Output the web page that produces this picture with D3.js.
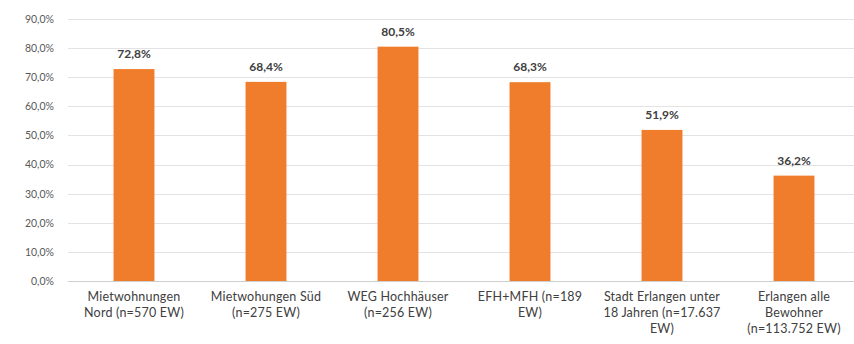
<!DOCTYPE html>
<html>
<head>
<meta charset="utf-8">
<script src="https://cdn.jsdelivr.net/npm/d3@7/dist/d3.min.js"></script>
<style>
  html, body { margin: 0; padding: 0; background: #fff; }
  svg { display: block; font-family: Lato, "Open Sans", sans-serif; }
</style>
</head>
<body>
<svg id="chart" width="854" height="344"></svg>
<script>
// Category labels (line breaks as shown under each bar)
const categories = [
  ["Mietwohnungen", "Nord (n=570 EW)"],
  ["Mietwohungen Süd", "(n=275 EW)"],
  ["WEG Hochhäuser", "(n=256 EW)"],
  ["EFH+MFH (n=189", "EW)"],
  ["Stadt Erlangen unter", "18 Jahren (n=17.637", "EW)"],
  ["Erlangen alle", "Bewohner", "(n=113.752 EW)"]
];
// Share in percent
const values = [72.8, 68.4, 80.5, 68.3, 51.9, 36.2];
const yTicks = [0, 10, 20, 30, 40, 50, 60, 70, 80, 90];

const svg = d3.select("#chart");
const fmt = v => v.toFixed(1).replace(".", ",") + "%";

const x = d3.scaleBand()
  .domain(d3.range(values.length))
  .range([68, 860])
  .paddingInner(0.69)
  .paddingOuter(0.345);

const y = d3.scaleLinear().domain([0, 90]).range([281, 19]);

// Horizontal gridlines
svg.append("g")
  .selectAll("line")
  .data(yTicks)
  .join("line")
  .attr("x1", 68).attr("x2", 854)
  .attr("y1", d => Math.round(y(d)) + 0.5)
  .attr("y2", d => Math.round(y(d)) + 0.5)
  .attr("stroke", d => d === 0 ? "#cfcfcf" : "#e3e3e3")
  .attr("stroke-width", 1);

// Y axis labels
const yAxis = d3.axisLeft(y).tickValues(yTicks).tickSize(0).tickPadding(0)
  .tickFormat(d => d.toFixed(1).replace(".", ",") + "%");
const ya = svg.append("g").attr("transform", "translate(54,0)").call(yAxis);
ya.select(".domain").remove();
ya.selectAll("text")
  .attr("fill", "#595959")
  .style("font-size", "10.5px")
  .style("font-family", "Lato, sans-serif");

// Bars
svg.append("g")
  .selectAll("rect")
  .data(values)
  .join("rect")
  .attr("x", (d, i) => x(i))
  .attr("width", x.bandwidth())
  .attr("y", d => y(d))
  .attr("height", d => y(0) - y(d))
  .attr("fill", "#f07d2c");

// Value labels
svg.append("g")
  .selectAll("text")
  .data(values)
  .join("text")
  .attr("x", (d, i) => x(i) + x.bandwidth() / 2)
  .attr("y", d => y(d) - 11)
  .attr("text-anchor", "middle")
  .attr("fill", "#404040")
  .style("font-size", "12px")
  .style("font-weight", "bold")
  .text(d => fmt(d));

// Category labels
const cat = svg.append("g")
  .selectAll("text")
  .data(categories)
  .join("text")
  .attr("x", (d, i) => x(i) + x.bandwidth() / 2)
  .attr("y", 301)
  .attr("text-anchor", "middle")
  .attr("fill", "#404040")
  .style("font-size", "12.5px")
  .style("letter-spacing", "0.2px");
cat.selectAll("tspan")
  .data(d => d)
  .join("tspan")
  .attr("x", function () { return d3.select(this.parentNode).attr("x"); })
  .attr("dy", (d, i) => i === 0 ? 0 : 16)
  .text(d => d);
</script>
</body>
</html>
